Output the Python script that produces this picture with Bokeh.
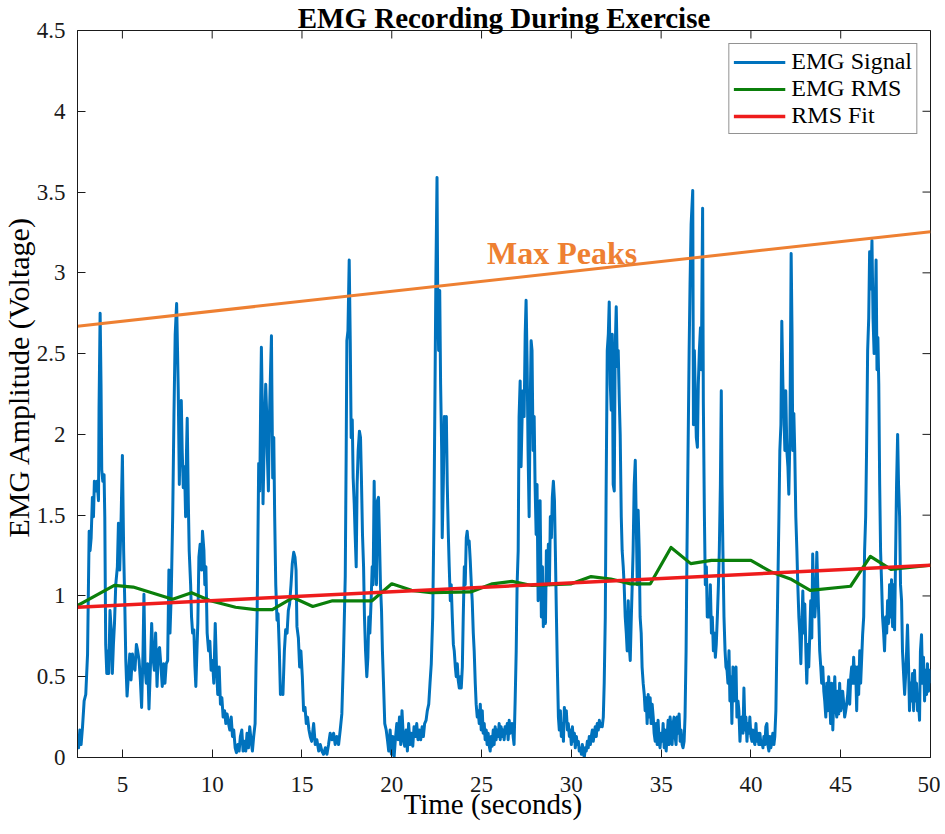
import math
from bokeh.plotting import figure
from bokeh.models import (Range1d, FixedTicker, Legend, LegendItem, Label, Title,
                          ColumnDataSource)
from bokeh.embed import file_html
from bokeh.resources import INLINE

# ---------------- data ----------------
title_text = "EMG Recording During Exercise"
x_label_text = "Time (seconds)"
y_label_text = "EMG Amplitude (Voltage)"
peak_text = "Max Peaks"

x_ticks = [5, 10, 15, 20, 25, 30, 35, 40, 45, 50]
y_ticks = [0, 0.5, 1, 1.5, 2, 2.5, 3, 3.5, 4, 4.5]
y_tick_labels = ["0", "0.5", "1", "1.5", "2", "2.5", "3", "3.5", "4", "4.5"]

emg_time = [
    2.50, 2.56, 2.63, 2.70, 2.78, 2.87, 2.96, 3.06, 3.11, 3.15, 3.20, 3.26, 3.33, 3.39, 3.44, 3.52,
    3.59, 3.67, 3.70, 3.76, 3.81, 3.85, 3.91, 3.98, 4.02, 4.07, 4.13, 4.19, 4.24, 4.31, 4.39, 4.44,
    4.50, 4.56, 4.63, 4.72, 4.78, 4.85, 4.93, 5.00, 5.07, 5.13, 5.19, 5.26, 5.33, 5.41, 5.48, 5.56,
    5.63, 5.70, 5.78, 5.85, 5.93, 6.00, 6.07, 6.15, 6.20, 6.26, 6.33, 6.41, 6.48, 6.56, 6.63, 6.70,
    6.78, 6.85, 6.93, 7.00, 7.07, 7.15, 7.22, 7.30, 7.37, 7.44, 7.52, 7.59, 7.65, 7.72, 7.80, 7.87,
    7.94, 8.02, 8.07, 8.11, 8.17, 8.22, 8.28, 8.33, 8.39, 8.46, 8.52, 8.57, 8.61, 8.67, 8.72, 8.80,
    8.85, 8.91, 8.98, 9.04, 9.09, 9.15, 9.20, 9.26, 9.33, 9.41, 9.46, 9.54, 9.59, 9.65, 9.72, 9.80,
    9.87, 9.94, 10.02, 10.09, 10.17, 10.24, 10.31, 10.39, 10.46, 10.54, 10.61, 10.69, 10.76, 10.83,
    10.91, 10.98, 11.06, 11.13, 11.20, 11.28, 11.35, 11.43, 11.50, 11.57, 11.65, 11.72, 11.80, 11.87,
    11.94, 12.02, 12.09, 12.17, 12.24, 12.31, 12.39, 12.44, 12.50, 12.56, 12.59, 12.65, 12.70, 12.74,
    12.80, 12.83, 12.89, 12.93, 12.98, 13.04, 13.07, 13.13, 13.19, 13.24, 13.30, 13.33, 13.37, 13.43,
    13.48, 13.54, 13.61, 13.67, 13.74, 13.80, 13.87, 13.94, 14.02, 14.09, 14.17, 14.24, 14.31, 14.39,
    14.46, 14.54, 14.61, 14.67, 14.72, 14.80, 14.87, 14.94, 15.02, 15.09, 15.17, 15.24, 15.31, 15.39,
    15.46, 15.54,
    15.65, 15.74, 15.83, 15.93, 16.02, 16.11, 16.20, 16.30, 16.39, 16.48, 16.57, 16.67, 16.76, 16.85,
    16.94, 17.04, 17.13, 17.22, 17.31, 17.41, 17.46, 17.50, 17.56, 17.63, 17.69, 17.74, 17.80, 17.85,
    17.91, 17.96, 18.02, 18.07, 18.13, 18.20, 18.26, 18.31, 18.37, 18.43, 18.48, 18.54, 18.61, 18.67,
    18.72, 18.78, 18.85, 18.91, 18.96, 19.02, 19.07, 19.15, 19.20, 19.26, 19.31, 19.37, 19.43, 19.48,
    19.54, 19.61, 19.69, 19.76, 19.83, 19.91, 19.98, 20.06, 20.13, 20.20, 20.28, 20.35, 20.43, 20.50,
    20.57, 20.65, 20.72, 20.80, 20.87, 20.94, 21.02, 21.09, 21.17, 21.24, 21.31, 21.39, 21.46, 21.54,
    21.61, 21.69, 21.76, 21.83, 21.91, 21.98, 22.06, 22.13, 22.20, 22.28, 22.35, 22.41, 22.46, 22.52,
    22.56, 22.61, 22.67, 22.72, 22.78, 22.81, 22.87, 22.93, 22.98, 23.04, 23.09, 23.15, 23.20, 23.26,
    23.31, 23.37, 23.43, 23.48, 23.54, 23.59, 23.65, 23.70, 23.76, 23.81, 23.87, 23.93, 23.98, 24.04,
    24.09, 24.15, 24.20, 24.26, 24.31, 24.37, 24.43, 24.48, 24.54, 24.59, 24.65, 24.70, 24.76, 24.81,
    24.87, 24.93, 24.98, 25.04, 25.09, 25.15, 25.20, 25.26, 25.31, 25.37, 25.43, 25.48, 25.54, 25.59,
    25.65, 25.70, 25.76, 25.81, 25.87, 25.93, 25.98, 26.04, 26.09, 26.15, 26.20, 26.26, 26.31, 26.37,
    26.43, 26.48, 26.54, 26.59, 26.65, 26.70, 26.76, 26.81, 26.87, 26.93, 26.98, 27.04, 27.09, 27.15,
    27.20, 27.26, 27.31, 27.37, 27.43, 27.48, 27.54, 27.59, 27.65, 27.70, 27.76, 27.81, 27.87, 27.93,
    27.98, 28.04, 28.09, 28.15, 28.20, 28.26, 28.31,
    28.33, 28.39, 28.44, 28.50, 28.56, 28.61, 28.67, 28.72, 28.78, 28.83, 28.89, 28.94, 29.00, 29.06,
    29.11, 29.17, 29.22, 29.28, 29.33, 29.39, 29.44, 29.50, 29.56, 29.61, 29.67, 29.72, 29.78, 29.83,
    29.89, 29.94, 30.00, 30.06, 30.11, 30.17, 30.22, 30.28, 30.33, 30.39, 30.44, 30.50, 30.56, 30.61,
    30.67, 30.72, 30.78, 30.83, 30.89, 30.94, 31.00, 31.06, 31.11, 31.17, 31.22, 31.28, 31.33, 31.39,
    31.44, 31.50, 31.56, 31.61, 31.67, 31.72, 31.78, 31.83, 31.89, 31.94, 32.00, 32.06, 32.11, 32.17,
    32.22, 32.28, 32.33, 32.39, 32.44, 32.50, 32.56, 32.61, 32.67, 32.72, 32.78, 32.83, 32.89, 32.94,
    33.00, 33.06, 33.11, 33.17, 33.22, 33.28, 33.33, 33.39, 33.44, 33.50, 33.56, 33.61, 33.67, 33.72,
    33.78, 33.83, 33.89, 33.94, 34.00, 34.06, 34.11, 34.17, 34.22, 34.28, 34.33, 34.39, 34.44, 34.50,
    34.56, 34.61, 34.67, 34.72, 34.78, 34.83, 34.89, 34.94, 35.00, 35.06, 35.11, 35.17, 35.22, 35.28,
    35.33, 35.39, 35.44, 35.50, 35.56, 35.61, 35.67, 35.72, 35.78, 35.83, 35.89, 35.94, 36.00, 36.06,
    36.11, 36.17, 36.22, 36.28, 36.33, 36.39, 36.44, 36.50, 36.56, 36.61, 36.67, 36.76, 36.80, 36.85,
    36.91, 36.96, 37.02, 37.07, 37.13, 37.19, 37.24, 37.28, 37.31, 37.35, 37.41, 37.46, 37.52, 37.57,
    37.63, 37.69, 37.74, 37.80, 37.85, 37.91, 37.96, 38.02, 38.07, 38.13, 38.19, 38.24, 38.30, 38.35,
    38.39, 38.44, 38.50, 38.56, 38.61, 38.67, 38.72, 38.78, 38.83, 38.89, 38.94, 39.00, 39.06, 39.11,
    39.17, 39.22, 39.28, 39.33, 39.39, 39.44, 39.50, 39.56, 39.61, 39.67, 39.72, 39.78, 39.83, 39.89,
    39.94, 40.00, 40.06, 40.11, 40.17, 40.22, 40.28, 40.33, 40.39, 40.44, 40.50, 40.56, 40.61, 40.67,
    40.72, 40.78, 40.83, 40.89, 40.94, 41.00, 41.06, 41.11, 41.17, 41.22, 41.28, 41.33, 41.39, 41.44,
    41.50, 41.56, 41.61, 41.67, 41.72, 41.78, 41.83, 41.89, 41.94, 42.00, 42.06, 42.11, 42.17, 42.24,
    42.29, 42.33, 42.39, 42.44, 42.50, 42.56, 42.61, 42.67, 42.72, 42.78, 42.83, 42.89, 42.94, 43.00,
    43.06, 43.11, 43.17, 43.22, 43.28, 43.33, 43.39, 43.44, 43.50, 43.56, 43.61, 43.67, 43.72, 43.78,
    43.83, 43.89, 43.94, 44.00, 44.06, 44.11, 44.17, 44.22, 44.28, 44.33, 44.39, 44.44, 44.50, 44.56,
    44.61, 44.67, 44.72, 44.78, 44.83, 44.89, 44.94, 45.00, 45.06, 45.11, 45.17, 45.22, 45.28, 45.33,
    45.39, 45.44, 45.50, 45.56, 45.61, 45.67, 45.72, 45.78, 45.83, 45.89, 45.94, 46.00, 46.06, 46.11,
    46.17, 46.22, 46.28, 46.33, 46.39, 46.44, 46.50, 46.56, 46.61, 46.67, 46.74, 46.80, 46.86, 46.92,
    46.97, 47.02, 47.07, 47.12, 47.17, 47.22, 47.28, 47.33, 47.39, 47.44, 47.50, 47.56, 47.61, 47.67,
    47.72, 47.78, 47.83, 47.89, 47.94, 48.00, 48.06, 48.11, 48.17, 48.22, 48.28, 48.33, 48.39, 48.44,
    48.50, 48.56, 48.61, 48.67, 48.72, 48.78, 48.83, 48.89, 48.94, 49.00, 49.06, 49.11, 49.17, 49.22,
    49.28, 49.33, 49.39, 49.44, 49.50, 49.56, 49.61, 49.67, 49.72, 49.78, 49.83, 49.89, 49.94, 50.00,
]

emg_amp = [
    0.13, 0.06, 0.17, 0.08, 0.19, 0.35, 0.39, 0.64, 1.07, 1.40, 1.28, 1.36, 1.61, 1.49, 1.71, 1.65,
    1.71, 1.59, 2.17, 2.75, 2.31, 1.78, 1.71, 1.75, 1.49, 0.70, 0.52, 0.66, 0.52, 0.91, 0.77, 0.52,
    0.70, 0.83, 1.07, 1.18, 1.45, 1.16, 1.49, 1.87, 1.28, 0.97, 0.60, 0.38, 0.50, 0.64, 0.48, 0.64,
    0.56, 0.54, 0.70, 0.66, 0.60, 0.48, 0.31, 0.66, 1.01, 0.56, 0.46, 0.58, 0.30, 0.56, 0.83, 0.62,
    0.54, 0.77, 0.44, 0.66, 0.68, 0.56, 0.44, 0.58, 0.46, 0.58, 0.60, 1.16, 0.77, 1.01, 1.49, 2.11,
    2.62, 2.81, 2.52, 2.27, 1.69, 2.00, 2.21, 1.90, 1.67, 1.80, 1.49, 1.90, 2.10, 1.59, 1.28, 1.07,
    0.87, 0.77, 0.79, 0.56, 0.44, 0.66, 0.83, 1.24, 1.32, 1.16, 1.40, 1.28, 1.07, 1.18, 0.77, 0.66,
    0.72, 0.54, 0.60, 0.46, 0.83, 0.56, 0.39, 0.56, 0.33, 0.37, 0.25, 0.29, 0.21, 0.27,
    0.21, 0.17, 0.25, 0.13, 0.17, 0.06, 0.03, 0.08, 0.04, 0.13, 0.17, 0.04, 0.10, 0.04,
    0.15, 0.06, 0.19, 0.10, 0.04, 0.13, 0.21, 0.56, 0.87, 1.49, 1.82, 1.65, 2.21, 2.54,
    2.11, 1.57, 1.90, 2.08, 2.31, 2.11, 1.88, 1.65, 2.11, 2.35, 2.61, 2.21, 1.73, 1.98,
    1.49, 1.07, 0.85, 0.89, 0.66, 0.39, 0.43, 0.39, 0.66, 0.79, 0.77, 0.91, 0.95, 1.07,
    1.20, 1.27, 1.24, 1.16, 0.81, 0.74, 0.56, 0.66, 0.50, 0.29, 0.31, 0.21, 0.25, 0.17,
    0.13, 0.10,
    0.21, 0.08, 0.11, 0.04, 0.08, 0.04, 0.02, 0.06, 0.02, 0.08, 0.15, 0.11, 0.15, 0.08,
    0.13, 0.08, 0.17, 0.27, 0.62, 1.12, 1.86, 2.58, 2.64, 3.08, 2.56, 1.98, 2.09, 1.73,
    1.57, 1.38, 1.18, 1.69, 1.90, 2.02, 1.98, 1.73, 1.38, 1.18, 0.87, 0.66, 0.50, 0.62,
    0.87, 0.77, 0.97, 1.18, 1.07, 1.71, 1.28, 1.07, 1.59, 1.61, 1.38, 1.07, 0.91, 0.66,
    0.46, 0.21, 0.17, 0.11, 0.04, 0.17, 0.02, 0.13, 0.00, 0.11, 0.21, 0.11, 0.25, 0.08,
    0.29, 0.11, 0.07, 0.17, 0.04, 0.21, 0.08, 0.15, 0.07, 0.19, 0.13, 0.21, 0.11, 0.17,
    0.11, 0.19, 0.13, 0.21, 0.23, 0.29, 0.33, 0.46, 0.58, 0.87, 1.49, 2.31, 3.01, 3.59,
    2.83, 2.52, 2.89, 2.31, 1.90, 1.36, 1.69, 2.11, 1.90, 2.11, 1.69, 1.38, 1.18, 0.97,
    1.07, 0.87, 0.70, 0.66, 0.56, 0.50, 0.58, 0.48, 0.43, 0.50, 0.43, 0.56, 0.87, 1.18,
    1.07, 1.36, 1.40, 1.32, 1.34, 1.22, 1.07, 0.97, 0.77, 0.66, 0.46, 0.33, 0.25, 0.29,
    0.21, 0.33, 0.17, 0.29, 0.15, 0.21, 0.11, 0.17, 0.08, 0.15, 0.07, 0.04, 0.13, 0.07,
    0.17, 0.08, 0.19, 0.11, 0.17, 0.13, 0.21, 0.11, 0.19, 0.13, 0.17, 0.11, 0.19, 0.15,
    0.21, 0.11, 0.23, 0.15, 0.17, 0.21, 0.13, 0.08, 0.35, 0.66, 1.07, 1.28, 2.11, 2.33,
    1.80, 2.11, 2.27, 2.11, 2.62, 2.83, 2.42, 1.90, 1.49, 2.11, 2.58, 2.52, 1.90, 2.11,
    1.69, 1.38, 1.69, 0.97, 1.28, 1.59, 1.07,
    0.87, 1.18, 0.81, 1.07, 0.83, 1.28, 1.07, 1.32, 1.07, 1.49, 1.36, 1.61, 1.71, 1.59,
    1.28, 0.87, 0.56, 0.25, 0.17, 0.29, 0.13, 0.21, 0.10, 0.31, 0.23, 0.29, 0.17, 0.21,
    0.13, 0.17, 0.08, 0.19, 0.10, 0.15, 0.06, 0.13, 0.08, 0.10, 0.04, 0.06, 0.02, 0.08,
    0.04, 0.00, 0.06, 0.04, 0.10, 0.06, 0.13, 0.08, 0.13, 0.17, 0.10, 0.15, 0.19, 0.13,
    0.21, 0.17, 0.23, 0.19, 0.21, 0.19, 0.25, 0.46, 0.87, 1.69, 2.52, 2.62, 2.82, 2.31,
    2.15, 2.62, 1.69, 1.65, 2.52, 2.79, 2.42, 2.52, 2.21, 2.00, 1.49, 1.28, 1.18, 1.07,
    0.87, 0.77, 0.66, 0.97, 0.70, 0.60, 0.83, 1.07, 1.28, 1.69, 1.84, 1.49, 1.07, 1.53,
    1.28, 0.87, 0.77, 0.56, 0.46, 0.39, 0.29, 0.37, 0.21, 0.39, 0.25, 0.37, 0.21, 0.33,
    0.25, 0.15, 0.10, 0.21, 0.08, 0.23, 0.10, 0.06, 0.15, 0.10, 0.21, 0.06, 0.17, 0.04,
    0.13, 0.23, 0.08, 0.25, 0.17, 0.08, 0.21, 0.25, 0.13, 0.08, 0.25, 0.15, 0.27, 0.10,
    0.17, 0.08, 0.06, 0.10, 0.25, 0.66, 1.28, 1.90, 2.52, 2.93, 3.30, 3.51, 2.06, 2.52,
    2.21, 1.98, 1.92, 2.31, 2.52, 2.66, 2.40, 3.00, 3.40, 2.20, 1.49, 1.07, 1.18, 0.87,
    0.97, 0.87, 1.07, 0.77, 0.87, 0.66, 0.77, 0.62, 0.70, 0.87, 1.07, 1.28, 1.69, 2.27,
    1.69, 1.28, 0.87, 0.66, 0.56, 0.54, 0.46, 0.66, 0.35, 0.50, 0.21, 0.56, 0.35, 0.46,
    0.56, 0.25, 0.35, 0.29, 0.10, 0.21, 0.25, 0.15, 0.43, 0.17, 0.25, 0.10, 0.21, 0.15,
    0.25, 0.13, 0.10, 0.17, 0.10, 0.08, 0.21, 0.10, 0.15, 0.08, 0.15, 0.08, 0.10, 0.06,
    0.13, 0.08, 0.19, 0.21, 0.08, 0.04, 0.13, 0.06, 0.10, 0.15, 0.08, 0.13, 0.29, 0.66,
    1.07, 1.49, 1.90, 2.06, 2.70, 2.31, 2.15, 1.90, 2.27, 1.90, 1.80, 1.63, 1.98, 3.12,
    2.62, 1.90, 2.13, 1.90, 1.49, 1.28, 1.07, 0.87, 0.77, 0.58, 0.80, 1.03, 0.77, 0.95,
    0.66, 0.46, 0.70, 0.56, 0.77, 0.97, 0.74, 1.26, 0.97, 0.87, 0.97, 1.27, 1.07, 0.87,
    0.66, 0.56, 0.46, 0.56, 0.41, 0.35, 0.25, 0.46, 0.29, 0.50, 0.35, 0.21, 0.46, 0.17,
    0.35, 0.50, 0.31, 0.25, 0.41, 0.27, 0.46, 0.29, 0.33, 0.41, 0.33, 0.25, 0.29, 0.33,
    0.39, 0.48, 0.33, 0.50, 0.56, 0.46, 0.62, 0.46, 0.56, 0.29, 0.56, 0.39, 0.66, 0.46,
    0.62, 0.76, 0.87, 1.28, 1.49, 1.90, 2.52, 2.72, 3.13, 2.90, 3.20, 2.72, 2.50, 2.75,
    3.08, 2.40, 2.60, 2.31, 1.69, 1.28, 1.07, 0.87, 0.77, 0.66, 0.87, 0.77, 0.97, 0.83,
    1.07, 0.87, 1.10, 0.81, 1.07, 0.79, 1.28, 1.69, 2.00, 1.69, 1.49, 1.07, 0.97, 0.66,
    0.52, 0.39, 0.50, 0.66, 0.82, 0.56, 0.29, 0.46, 0.35, 0.52, 0.29, 0.54, 0.35, 0.46,
    0.29, 0.35, 0.23, 0.66, 0.76, 0.46, 0.62, 0.35, 0.54, 0.39, 0.58, 0.41, 0.54, 0.46,
]

rms_time = [2.5, 4.55, 5.6, 7.8, 8.85, 9.9, 11.3, 12.4, 13.35, 14.5, 15.6, 16.7, 18.9,
            20.0, 21.1, 22.2, 24.4, 25.6, 26.7, 27.8, 28.9, 30.0, 31.1, 32.2, 33.3, 34.4,
            35.55, 36.65, 37.8, 40.0, 41.1, 42.2, 43.3, 45.55, 46.65, 47.8, 50.0]
rms_amp = [0.94, 1.065, 1.055, 0.98, 1.02, 0.97, 0.93, 0.915, 0.915, 0.99, 0.935, 0.97, 0.97,
           1.075, 1.035, 1.02, 1.025, 1.075, 1.09, 1.065, 1.07, 1.075, 1.12, 1.105, 1.075, 1.075,
           1.30, 1.20, 1.22, 1.22, 1.15, 1.105, 1.035, 1.06, 1.245, 1.165, 1.19]

fit_time = [2.5, 50.0]
fit_amp = [0.93, 1.19]

peak_time = [2.5, 50.0]
peak_amp = [2.67, 3.255]
peak_label_at = (25.3, 3.12)

# ---------------- styling ----------------
BLUE = "#0072BD"
GREEN = "#0B7F0B"
RED = "#EE1C1C"
ORANGE = "#EE8032"
INK = "#1a1a1a"
SERIF = "Liberation Serif"

x0, x1 = 2.5, 50.0
y0, y1 = 0.0, 4.5

p = figure(width=940, height=830,
           x_range=Range1d(x0, x1), y_range=Range1d(y0, y1),
           output_backend="svg", toolbar_location=None,
           min_border_left=75, min_border_right=10, min_border_top=30, min_border_bottom=73)
p.grid.visible = False
p.outline_line_color = INK
p.outline_line_width = 1
p.background_fill_color = "white"
p.border_fill_color = "white"

p.title.text = title_text
p.title.align = "center"
p.title.text_font = SERIF
p.title.text_font_style = "bold"
p.title.text_font_size = "29px"
p.title.text_color = "black"
p.title.standoff = -6

for ax in (p.xaxis[0], p.yaxis[0]):
    ax.major_tick_in = 8
    ax.major_tick_out = 0
    ax.minor_tick_in = 0
    ax.minor_tick_out = 0
    ax.axis_line_color = INK
    ax.major_tick_line_color = INK
    ax.major_label_text_font = SERIF
    ax.major_label_text_font_style = "normal"
    ax.major_label_text_color = INK
    ax.major_label_text_font_size = "23px"

xa = p.xaxis[0]
xa.ticker = FixedTicker(ticks=x_ticks)
xa.major_label_standoff = 19

ya = p.yaxis[0]
ya.ticker = FixedTicker(ticks=y_ticks)
ya.major_label_overrides = {t: s for t, s in zip(y_ticks, y_tick_labels)}
ya.major_label_standoff = 12

# axis titles placed as side titles so they can sit where the reference has them
p.add_layout(Title(text=y_label_text, align="left", offset=220, standoff=-2,
                   text_font=SERIF, text_font_style="normal", text_font_size="30px",
                   text_color="black"), "left")
p.add_layout(Title(text=x_label_text, align="left", offset=326, standoff=-18,
                   text_font=SERIF, text_font_style="normal", text_font_size="29px",
                   text_color="black"), "below")

# inward ticks on the top and right edges of the box (clipped to the frame)
p.scatter(x=x_ticks, y=[y1] * len(x_ticks), marker="dash", angle=math.pi / 2,
          size=16, line_color=INK, line_width=1)
p.scatter(x=[x1] * len(y_ticks), y=y_ticks, marker="dash",
          size=16, line_color=INK, line_width=1)

src_emg = ColumnDataSource(dict(t=emg_time, v=emg_amp))
src_rms = ColumnDataSource(dict(t=rms_time, v=rms_amp))
src_fit = ColumnDataSource(dict(t=fit_time, v=fit_amp))
src_peak = ColumnDataSource(dict(t=peak_time, v=peak_amp))

r_sig = p.line("t", "v", source=src_emg, line_color=BLUE, line_width=3, line_join="round")
r_rms = p.line("t", "v", source=src_rms, line_color=GREEN, line_width=3.2, line_join="round")
r_fit = p.line("t", "v", source=src_fit, line_color=RED, line_width=3.5)
r_peak = p.line("t", "v", source=src_peak, line_color=ORANGE, line_width=3)

p.add_layout(Label(x=peak_label_at[0], y=peak_label_at[1], text=peak_text,
                   text_font=SERIF, text_font_style="bold", text_font_size="32px",
                   text_color=ORANGE, text_align="left", text_baseline="alphabetic"))

legend = Legend(items=[LegendItem(label="EMG Signal", renderers=[r_sig]),
                       LegendItem(label="EMG RMS", renderers=[r_rms]),
                       LegendItem(label="RMS Fit", renderers=[r_fit])],
                location="top_right", margin=13, padding=4, spacing=0,
                glyph_width=52, glyph_height=24, label_height=24, label_standoff=6,
                label_text_font=SERIF, label_text_font_size="24px", label_text_color="black",
                border_line_color="#262626", border_line_width=1,
                background_fill_color="white", background_fill_alpha=1)
p.add_layout(legend)

open("out.html", "w").write(file_html(p, INLINE))
